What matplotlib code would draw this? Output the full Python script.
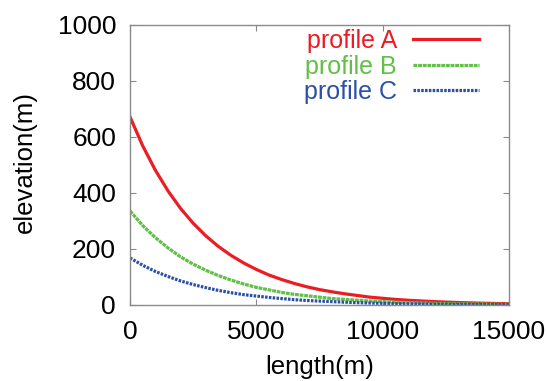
import matplotlib
matplotlib.use("Agg")
import matplotlib.pyplot as plt
import numpy as np

# values (every 500 m)
length_m = np.arange(0, 15001, 500)
profile_a = [672, 569, 482, 408, 345, 292, 247, 209, 177, 150, 127, 107, 91, 77, 65, 55,
             47, 40, 34, 28, 24, 20, 17, 14.5, 12.3, 10.4, 8.8, 7.5, 6.3, 5.4, 4.5]
profile_b = [336, 284, 241, 204, 172, 146, 124, 105, 89, 75, 63, 54, 45, 38, 33, 28,
             23, 20, 17, 14, 12, 10, 8.6, 7.3, 6.2, 5.2, 4.4, 3.7, 3.2, 2.7, 2.3]
profile_c = [168, 142, 120, 102, 86, 73, 62, 52, 44, 37, 32, 27, 23, 19, 16, 14,
             12, 10, 8.4, 7.1, 6.0, 5.1, 4.3, 3.6, 3.1, 2.6, 2.2, 1.9, 1.6, 1.3, 1.1]
labels = ["profile A", "profile B", "profile C"]
colors = ["#ec1c24", "#62bf47", "#2c50a6"]
styles = ["-", (0, (1.2, 0.25)), (0, (0.8, 0.4))]

plt.rcParams["font.family"] = ["Liberation Sans", "DejaVu Sans"]

W, H = 547, 381
fig = plt.figure(figsize=(W / 100, H / 100), dpi=100)
ax = fig.add_axes([130 / W, 1 - 305 / H, 379 / W, 280 / H])

for y, lab, c, ls in zip([profile_a, profile_b, profile_c], labels, colors, styles):
    ax.plot(length_m, y, color=c, lw=2.3, linestyle=ls, label=lab)

ax.set_xlim(0, 15000)
ax.set_ylim(0, 1000)
ax.set_xticks([0, 5000, 10000, 15000])
ax.set_yticks(range(0, 1001, 200))

for s in ax.spines.values():
    s.set_color("#8a8a8a")
    s.set_linewidth(1.0)
ax.tick_params(direction="in", length=4, width=0.8, color="#8a8a8a",
               top=True, right=True, labelsize=19, pad=11)
ax.tick_params(axis="y", pad=10)

ax.set_xlabel("length(m)", fontsize=18.5)
ax.set_ylabel("elevation(m)", fontsize=18.5)
ax.xaxis.set_label_coords(0.5, -0.178)
ax.yaxis.set_label_coords(-0.245, 0.51)

ax.legend(loc="upper right", bbox_to_anchor=(0.921, 0.985), frameon=False,
          markerfirst=False, labelcolor="linecolor", fontsize=18,
          handlelength=2.64, handletextpad=0.64, labelspacing=0.06,
          borderpad=0, borderaxespad=0)

fig.savefig("out.png", dpi=100)
